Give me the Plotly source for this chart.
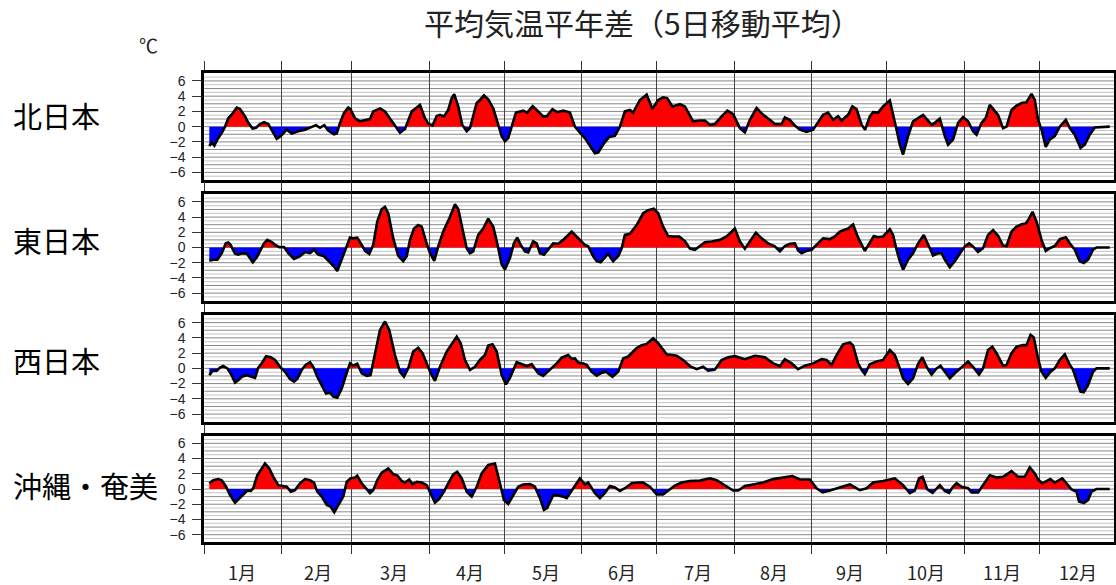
import numpy as np
import plotly.graph_objects as go

# ---------------- data (day of year, 5-day running mean anomaly, degC) ----------------
REGIONS = ["北日本", "東日本", "西日本", "沖縄・奄美"]

north_days = [3, 4, 5, 6.2, 8, 9.3, 10.6, 12, 14, 15.3, 17.3, 18.6, 20.3, 21.7, 23.3, 24.9, 26.6, 28.2, 30, 31.5,
              34, 36, 38.6, 41.3, 43.3, 45.7, 47.3, 49, 50.6, 52.9, 54, 55.3, 56.9, 58.6, 59.5, 61.3, 63.3, 65.3,
              67.3, 68.6, 71.3, 73.3, 76, 79.3, 81.3, 84, 86, 87.3, 89.3, 90.6, 92.3, 94, 95.3, 96.9, 98.6, 100,
              101, 102.6, 104.2, 106, 107.3, 108.6, 110, 111.3, 112.9, 114.6, 116.6, 118.6, 120, 121.3, 122.6, 124,
              125.7, 127.3, 128.6, 130.2, 132.4, 134.6, 136.6, 138, 140.3, 142.2, 144.6, 147.3, 149.3, 151.3, 153.3,
              155.3, 157.3, 158.6, 160.6, 163, 165.3, 167.3, 169.3, 171.3, 172.6, 175.3, 178, 180.3, 182.6, 184.6,
              186.2, 188.3, 191.3, 193.3, 195.3, 196.6, 199.3, 201.3, 203.3, 205.3, 208, 210.3, 212.6, 215.3, 217.3,
              219.3, 222, 224.6, 227.3, 229.3, 232, 233.3, 235.3, 237.3, 239.3, 242, 244.6, 246.6, 248.6, 250.6,
              252.6, 254.6, 256, 258.6, 260.3, 262, 264, 265.4, 267.3, 268.6, 270.6, 272.6, 275.3, 278, 279.3, 280.6,
              282.6, 284.6, 286.6, 288.6, 290.6, 292, 293.3, 295.3, 297.3, 298.6, 300.6, 302.6, 304.6, 306.6, 308.6,
              310, 312, 313.7, 315.3, 317.3, 318.6, 320.6, 322, 324, 326, 328, 330, 332, 333.3, 334.6, 336, 337.7,
              339.3, 341.3, 343.3, 345.7, 347.3, 349.3, 351.6, 353.3, 355.3, 357.3, 363.3]
north_vals = [-2.55, -2.1, -2.5, -1.7, -0.8, 0, 1.1, 1.6, 2.5, 2.3, 1.35, 0.5, -0.25, -0.15, 0.35, 0.6, 0.35, -0.6,
              -1.6, -1.25, -0.4, -0.9, -0.6, -0.4, -0.1, 0.2, -0.15, 0.2, -0.5, -1.0, -0.9, 0.5, 1.8, 2.5, 2.3, 1.1,
              0.7, 0.8, 1.0, 2.0, 2.4, 2.0, 0.7, -0.8, -0.3, 2.0, 2.5, 2.85, 1.1, 0.4, 0.15, 1.4, 1.55, 1.35, 2.2,
              3.75, 4.25, 2.65, 0.25, -0.6, -0.2, 1.35, 3.1, 3.5, 4.1, 3.6, 2.4, 0.25, -1.25, -1.9, -1.5, 0, 1.85,
              2.0, 2.1, 1.85, 2.7, 2.0, 1.35, 1.35, 2.3, 1.9, 2.1, 1.85, 0, -0.8, -1.5, -2.5, -3.5, -3.4, -2.35,
              -1.35, -1.2, 0, 2.0, 2.2, 1.85, 3.5, 4.2, 2.35, 3.5, 3.85, 3.75, 2.65, 2.95, 2.65, 1.35, 0.7, 0.8, 0.8,
              0.25, 0.35, 1.35, 2.1, 1.65, -0.2, -0.75, 0.9, 2.45, 1.55, 0.9, 0.35, 0.35, 1.2, 0.9, 0.15, -0.4, -0.7,
              -0.4, 0.5, 1.55, 1.85, 0.9, 1.35, 0.8, 1.55, 2.65, 2.3, 0.25, -0.4, 1.35, 1.9, 1.85, 2.65, 3.45, -0.4,
              -2.35, -3.65, -1.25, 0.7, 1.15, 1.55, 0.8, 0.25, 0.5, 1.05, -1.25, -2.35, -1.7, 0.5, 1.25, 0.7, -0.6,
              -1.05, 0.5, 1.15, 2.85, 2.0, 1.55, -0.2, 0, 2.2, 2.75, 3.1, 3.2, 4.3, 3.5, 0.9, -0.4, -2.65, -1.7,
              -1.25, 0, 0.9, -0.2, -1.05, -2.8, -2.35, -1.05, -0.1, 0]

east_days = [3, 4.6, 6.2, 8, 9.6, 10.6, 11.5, 13.3, 14.6, 16, 18, 20.4, 22, 23.3, 24.9, 26.2, 28, 29.3, 31, 32.9,
             34.6, 36.9, 39.3, 41.3, 43.3, 44.9, 46.6, 48.9, 51, 52.9, 54.2, 56, 57.7, 59.3, 60.6, 62.2, 64, 65.3,
             67, 68.6, 70.2, 72, 73.3, 74.6, 76.6, 78.6, 80.6, 82, 83.3, 84.9, 86.6, 88, 89.7, 91.3, 93, 94.6, 96.6,
             99, 101.3, 102.6, 104.4, 106, 107.3, 108.6, 110.6, 112.6, 114.6, 116.6, 118.2, 120, 121.3, 123.3,
             124.9, 126.2, 127.6, 129.3, 130.6, 132.6, 134, 135.3, 136.9, 138.6, 140.6, 142.6, 144.6, 148, 150.6,
             153.3, 154.6, 156.6, 158, 159.6, 161.3, 162.6, 164.6, 166.6, 168, 169.3, 171.3, 174, 176.6, 178.6,
             180.9, 182.6, 184.6, 186.6, 188.6, 191, 193.3, 195.3, 197.3, 199.3, 201.3, 204, 207.3, 210, 213.3,
             215.3, 217.3, 219.3, 221.7, 224, 226.6, 229.3, 231.3, 233.3, 235.3, 237.3, 238.6, 240, 242, 244, 246,
             248.6, 251.3, 253.3, 255.3, 258.6, 260.6, 262.6, 265.3, 267, 268.9, 270.6, 272.6, 275.3, 276.6, 278,
             279.3, 280.6, 282.6, 284.6, 286.6, 288.9, 290.6, 292.6, 294.6, 296, 297.3, 299.3, 301.3, 303.3, 305.3,
             307, 308.6, 310.6, 312.6, 314.6, 316.6, 318.6, 320.6, 322, 324, 326, 328, 329.7, 331, 332.4, 334, 336,
             337.7, 339.3, 341.3, 343.3, 345.7, 347.3, 349.3, 351.3, 352.9, 354.6, 356.6, 358, 363.3]
east_vals = [-1.75, -1.6, -1.6, -0.75, 0.55, 0.65, 0.35, -0.8, -0.95, -0.75, -0.8, -1.95, -1.3, -0.5, 0.55, 1.0,
             0.7, 0.35, 0.05, 0.05, -0.75, -1.5, -1.15, -0.6, -0.75, -0.3, -0.95, -1.15, -1.8, -2.5, -3.1, -1.6,
             -0.1, 1.3, 1.2, 1.3, 0.35, -0.45, -0.85, 0.35, 3.4, 5.05, 5.35, 4.5, 1.2, -1.1, -1.8, -1.15, 1.0, 2.5,
             2.95, 2.75, 0.8, -0.75, -1.75, 0.15, 2.1, 3.8, 5.7, 5.05, 2.3, -0.1, -0.75, -0.5, 1.65, 2.5, 3.8, 2.75,
             0.55, -2.25, -2.9, -1.4, 0.55, 1.3, 0.35, -0.5, -0.65, 0.8, 0.55, -0.75, -0.95, -0.3, 0.55, 0.5, 1.0,
             2.1, 1.3, 0.35, 0.15, -1.15, -1.8, -1.95, -1.3, -0.85, -1.8, -1.15, -0.1, 1.65, 1.8, 2.95, 4.5, 4.9,
             5.1, 4.5, 2.75, 1.5, 1.45, 1.45, 0.85, -0.15, -0.3, 0.15, 0.7, 0.8, 1.0, 1.45, 2.5, 0.8, -0.15, 0.8,
             1.95, 1.2, 0.55, 0.15, -0.5, 0.2, 0.5, 0.55, -0.4, -0.75, -0.45, -0.3, 0.35, 1.2, 1.1, 1.45, 2.1, 2.5,
             3.05, 1.3, -0.45, 0.45, 1.5, 1.35, 1.45, 2.4, 1.65, -0.3, -1.8, -2.9, -1.6, -0.75, 0.55, 1.65, 0.35,
             -1.05, -0.75, -0.75, -1.6, -2.6, -1.8, -0.75, 0.15, 0.55, 0.15, -0.6, -0.1, 1.65, 2.3, 1.55, 0.25, 0.2,
             2.1, 2.75, 3.05, 3.15, 3.8, 4.7, 3.4, 1.0, -0.45, -0.1, 0.2, 1.1, 1.35, 0.55, -0.3, -1.8, -2.05, -1.6,
             -0.3, 0, 0]

west_days = [3, 4.3, 6, 7.3, 8.6, 10.2, 11.5, 13.3, 14.6, 16, 18, 20, 21.3, 22.6, 24, 25.7, 27.6, 29.3, 31.3, 33.3,
             35.3, 36.9, 38.2, 40, 41.5, 43.3, 44.6, 46.2, 48, 49.7, 51.3, 52.6, 54.2, 56, 57.7, 59.3, 60.6, 62.2,
             64, 66, 67.5, 69.3, 71.3, 73.3, 75, 77.3, 79.3, 80.9, 82.6, 84.6, 86.6, 88.3, 90, 91.6, 93.3, 95.3, 98,
             100, 102, 103.6, 105.3, 107.3, 109.3, 111.3, 113.3, 114.6, 116.3, 118, 120, 121.7, 123.3, 126, 128,
             130, 132, 134.6, 136.6, 139.3, 142, 144, 146.6, 148, 149.3, 150.6, 152.6, 154, 156, 158, 159.6, 161.7,
             164.3, 166.6, 168.6, 170.6, 172.6, 174, 176, 178, 180.6, 182.6, 186, 190, 192.6, 195.3, 198, 200.6,
             202.6, 205.3, 208, 210.6, 213.3, 217.3, 221.3, 225.3, 228.6, 231.3, 233.3, 236, 238.6, 241.3, 244.6,
             248, 250, 252, 254, 256.6, 259.3, 260.6, 262.6, 264, 265.3, 267.3, 270, 272.6, 275.3, 277.3, 279.3,
             280.6, 282.6, 284.6, 286.6, 288.3, 290, 292, 294, 295.6, 297.3, 299.3, 301.3, 304, 306.6, 308.6, 311,
             312.6, 314.6, 316.3, 318, 320.6, 322, 324, 326, 328.6, 330, 331.6, 332.9, 334.6, 336, 337.7, 339.6,
             341.3, 343.3, 345.3, 347, 348.6, 350, 351.6, 352.9, 354.6, 356.6, 358, 363.3]
west_vals = [-0.9, -0.35, -0.3, 0.1, 0.3, 0, -0.65, -1.85, -1.55, -1.1, -0.9, -1.1, -1.25, 0.1, 0.65, 1.6, 1.45,
             1.1, 0.2, -0.45, -1.4, -1.75, -1.4, -0.2, 0.45, 0.8, 0.2, -1.1, -2.2, -3.3, -3.2, -3.7, -3.85, -2.65,
             -0.9, 0.65, 0.35, 0.6, -0.65, -1.0, -0.9, 1.75, 5.05, 6.15, 5.05, 1.75, -0.45, -1.1, 0, 2.2, 2.7, 2.0,
             0.65, -0.65, -1.65, 0.2, 2.2, 3.15, 4.15, 3.3, 1.1, -0.2, 0.2, 1.1, 1.75, 3.0, 3.15, 2.2, -0.9, -2.1,
             -1.25, 0.8, 0.55, 0.3, 0.55, -0.65, -1.0, -0.2, 0.65, 1.4, 1.75, 1.25, 1.3, 0.75, 0.65, 0.45, -0.45,
             -0.95, -0.65, -0.45, -1.1, -0.45, 1.3, 1.55, 2.2, 2.65, 3.05, 3.2, 3.95, 3.3, 1.85, 1.65, 1.1, 0.3,
             -0.1, 0.2, -0.3, -0.15, 1.1, 1.45, 1.6, 1.2, 1.65, 1.45, 0.65, 0.3, 1.2, 0.65, -0.1, 0.35, 0.65, 1.2,
             1.1, 0.45, 1.75, 3.15, 3.4, 3.0, 0.65, -0.2, -0.75, 0.55, 0.9, 1.1, 2.4, 1.75, 0, -1.3, -2.05, -1.3,
             0.55, 1.45, 0.2, -0.8, 0, 0.35, -0.45, -1.3, -0.65, 0.2, 0.9, 0.2, -0.8, 0, 2.4, 2.85, 2.0, 0.35, 0.45,
             2.0, 2.85, 3.05, 3.05, 4.4, 4.05, 1.3, -0.45, -1.25, -0.45, 0, 1.1, 1.85, 0.65, -0.2, -1.55, -3.05,
             -3.15, -2.2, -0.45, 0, 0]

oki_days = [3, 4.6, 6.6, 8, 9.7, 11.3, 13.3, 15, 16.6, 18.2, 19.6, 20.6, 22.2, 24, 25.3, 27, 28.6, 30.6, 32.6, 34,
            35.6, 37.3, 39.3, 41.3, 43.3, 44.9, 46.2, 48, 50, 51.5, 53, 54.6, 56.6, 58, 59.6, 61.3, 62.2, 64, 65.7,
            67.3, 68.6, 70.2, 72, 74.6, 76.6, 78.2, 80, 81.3, 83, 84.3, 86, 88, 90, 91.3, 93.3, 95, 96.9, 98.6,
            100.6, 102.2, 104, 106, 108, 110, 112, 114.6, 117.3, 119.3, 120.9, 122.6, 124.6, 126.6, 128.6, 131.3,
            133.3, 135.3, 136.9, 138.2, 140.6, 142.6, 144.6, 146, 147.3, 149.3, 151.3, 153.3, 154.6, 157.3, 159.3,
            161.3, 163.3, 165.3, 167.3, 169.3, 172, 174.6, 176.6, 179.3, 182, 184.6, 186.6, 189.3, 192, 195.3,
            199.3, 203.3, 206, 209.3, 212.6, 214.6, 217.3, 220.6, 224.6, 228.6, 232.6, 236.3, 239.3, 243.3, 246,
            248.4, 251.3, 255.3, 259.3, 263.3, 266, 268.6, 272.6, 277.3, 280.6, 283.3, 285.3, 287, 288.4, 290.3,
            292.4, 295.3, 297.3, 299, 300.6, 302, 304, 306.6, 308, 310.6, 312.6, 315.3, 318, 320.6, 324, 326.6,
            329.3, 331.3, 333.3, 334.6, 336.3, 338, 339.5, 341.3, 343.3, 344.3, 346, 348, 350, 351, 352.9, 354.6,
            356, 358, 363.3]
oki_vals = [0.75, 1.15, 1.3, 1.15, 0.3, -0.8, -1.8, -1.2, -0.7, -0.2, -0.25, 0.1, 1.8, 2.7, 3.35, 2.7, 1.6, 0.5,
            0.4, 0.3, -0.35, -0.15, 0.75, 1.3, 1.15, 0.85, -0.35, -1.0, -2.1, -2.3, -3.05, -2.1, -1.0, 0.95, 1.4,
            1.5, 1.75, 0.75, 0.1, -0.55, -0.15, 1.15, 2.15, 2.7, 1.95, 1.8, 1.05, 0.85, 1.25, 0.65, 0.95, 0.85, 0.5,
            -0.35, -1.8, -1.3, -0.35, 0.75, 1.9, 2.25, 1.4, -0.35, -1.0, 0.3, 2.05, 3.15, 3.35, 0.75, -1.45, -1.95,
            -0.8, 0.3, 0.6, 0.65, 0.3, -1.2, -2.75, -2.5, -0.8, -0.85, -1.0, -1.2, -0.55, 0.5, 1.4, 0.6, 0.85, -0.55,
            -1.2, -0.5, 0.4, 0.2, -0.25, 0.1, 0.75, 0.85, 0.85, 0.3, -0.7, -0.7, -0.25, 0.45, 0.85, 1.05, 1.1, 1.4,
            1.15, 0.45, -0.2, -0.2, 0.4, 0.6, 0.85, 1.3, 1.5, 1.7, 1.25, 1.25, 0.1, -0.45, -0.2, 0.2, 0.6, -0.15,
            0.1, 0.85, 1.05, 1.4, 0.5, -0.55, -0.2, 1.4, 1.6, -0.05, -0.5, 0.5, -0.25, -0.5, 0.3, 0.75, 0.3, 0.1,
            -0.45, -0.45, 0.5, 1.8, 1.5, 1.6, 2.35, 1.6, 1.6, 2.85, 2.05, 1.25, 0.75, 1.05, 1.3, 0.85, 1.15, 1.4,
            0.75, -0.05, -0.35, -1.65, -1.85, -1.45, -0.35, 0, 0]

SERIES = [(north_days, north_vals), (east_days, east_vals), (west_days, west_vals), (oki_days, oki_vals)]

MONTH_STARTS = [1, 32, 60, 91, 121, 152, 182, 213, 244, 274, 305, 335]
MONTH_LABELS = ["1月", "2月", "3月", "4月", "5月", "6月", "7月", "8月", "9月", "10月", "11月", "12月"]
MONTH_LABEL_POS = [(k + 0.5) * 365 / 12 + 1 for k in range(12)]
Y_TICKS = [-6, -4, -2, 0, 2, 4, 6]

TITLE = "平均気温平年差（5日移動平均）"
UNIT = "℃"

# ---------------- layout geometry ----------------
W, H = 1116, 585
X_DOMAIN = [204.3 / W, 1114 / W]
PANELS_PX = [(73.3, 180), (194.3, 300.7), (315, 421.7), (435.7, 542.3)]
LABEL_Y_PX = [115.5, 240, 360, 485]

JP = "Noto Sans CJK JP"
NUM = "Liberation Sans, Arial, sans-serif"


def split_at_zero(days, vals):
    xs, ys = [], []
    for i in range(len(days)):
        if i > 0:
            v0, v1 = vals[i - 1], vals[i]
            if v0 * v1 < 0:
                d0, d1 = days[i - 1], days[i]
                xs.append(d0 + (0 - v0) * (d1 - d0) / (v1 - v0))
                ys.append(0.0)
        xs.append(days[i])
        ys.append(vals[i])
    ys = np.array(ys)
    return np.array(xs), np.maximum(ys, 0), np.minimum(ys, 0)


fig = go.Figure()
shapes = []
annotations = []

for i, (days, vals) in enumerate(SERIES):
    n = i + 1
    xa = "x" if n == 1 else f"x{n}"
    ya = "y" if n == 1 else f"y{n}"
    xs, pos, neg = split_at_zero(days, vals)
    fig.add_trace(go.Scatter(x=xs, y=pos, mode="lines", fill="tozeroy", fillcolor="#ff0000",
                             line=dict(width=0, color="#ff0000"), xaxis=xa, yaxis=ya,
                             hoverinfo="skip", showlegend=False))
    fig.add_trace(go.Scatter(x=xs, y=neg, mode="lines", fill="tozeroy", fillcolor="#0000ff",
                             line=dict(width=0, color="#0000ff"), xaxis=xa, yaxis=ya,
                             hoverinfo="skip", showlegend=False))
    fig.add_trace(go.Scatter(x=days, y=vals, mode="lines", line=dict(width=2.6, color="black"),
                             xaxis=xa, yaxis=ya, showlegend=False))

    top, bot = PANELS_PX[i]
    ydom = [1 - bot / H, 1 - top / H]
    xkey = "xaxis" if n == 1 else f"xaxis{n}"
    ykey = "yaxis" if n == 1 else f"yaxis{n}"
    fig.update_layout(**{
        xkey: dict(domain=X_DOMAIN, range=[1, 365], anchor=ya, tickvals=MONTH_STARTS,
                   showticklabels=False, ticks="outside", ticklen=9, tickwidth=1, tickcolor="#333",
                   showgrid=True, gridcolor="#444", gridwidth=1, zeroline=False,
                   showline=True, linewidth=3, linecolor="black", mirror="allticks", fixedrange=True),
        ykey: dict(domain=ydom, range=[-7, 7], anchor=xa, tickvals=Y_TICKS, ticks="outside",
                   ticklen=9, tickwidth=1, tickcolor="#333", showgrid=False, zeroline=False,
                   showline=True, linewidth=3, linecolor="black", mirror=True,
                   tickfont=dict(family=NUM, size=14, color="#222"), ticklabelstandoff=4,
                   fixedrange=True),
    })
    # horizontal guide lines every 0.5 degC
    for k in range(-13, 14):
        v = k * 0.5
        dark = (k % 2 == 0)
        shapes.append(dict(type="line", xref=f"{xa} domain", x0=0, x1=1, yref=ya, y0=v, y1=v,
                           line=dict(color="#888888" if dark else "#c4c4c4", width=1), layer="below"))
    annotations.append(dict(text=REGIONS[i], xref="paper", yref="paper", x=11 / W, y=1 - LABEL_Y_PX[i] / H,
                            xanchor="left", yanchor="middle", showarrow=False,
                            font=dict(family=JP, size=29, color="black")))

for lab, p in zip(MONTH_LABELS, MONTH_LABEL_POS):
    annotations.append(dict(text=lab, xref="x4", yref="paper", x=p, y=1 - 572 / H,
                            xanchor="center", yanchor="middle", showarrow=False,
                            font=dict(family=JP, size=18, color="#222")))

annotations.append(dict(text=TITLE, xref="paper", yref="paper", x=642 / W, y=1 - 22 / H,
                        xanchor="center", yanchor="middle", showarrow=False,
                        font=dict(family=JP, size=30, color="#222")))
annotations.append(dict(text=UNIT, xref="paper", yref="paper", x=148 / W, y=1 - 45 / H,
                        xanchor="center", yanchor="middle", showarrow=False,
                        font=dict(family=JP, size=19, color="#222")))

fig.update_layout(width=W, height=H, margin=dict(l=0, r=0, t=0, b=0),
                  paper_bgcolor="white", plot_bgcolor="white",
                  shapes=shapes, annotations=annotations, showlegend=False)

fig.write_html("out.html", config={"displayModeBar": False},
               post_script="document.body.style.margin='0px';")
